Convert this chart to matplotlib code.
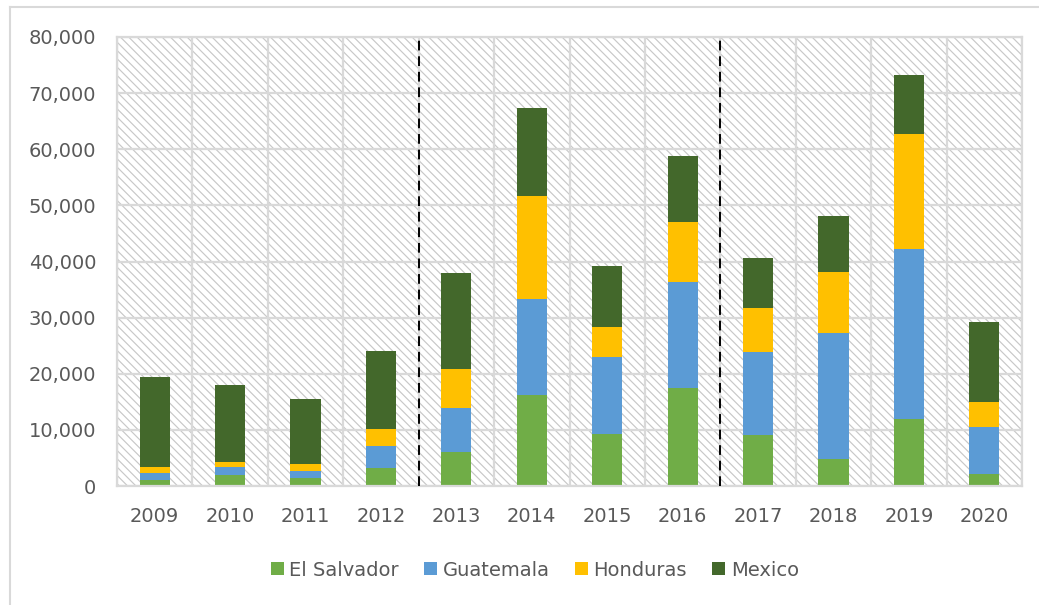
import numpy as np
import matplotlib
matplotlib.use("Agg")
import matplotlib.pyplot as plt
from matplotlib.patches import Rectangle
from matplotlib.lines import Line2D
from matplotlib.ticker import FuncFormatter, MultipleLocator

years = ["2009", "2010", "2011", "2012", "2013", "2014",
         "2015", "2016", "2017", "2018", "2019", "2020"]
el_salvador = [1100, 1900, 1400, 3200, 6000, 16250, 9350, 17400, 9100, 4850, 11850, 2050]
guatemala = [1200, 1500, 1350, 3900, 7900, 17100, 13550, 18950, 14850, 22350, 30450, 8450]
honduras = [1000, 950, 1200, 3000, 6900, 18300, 5450, 10600, 7800, 11000, 20400, 4400]
mexico = [16200, 13700, 11600, 13900, 17100, 15750, 10900, 11800, 8850, 9950, 10450, 14300]

series_names = ["El Salvador", "Guatemala", "Honduras", "Mexico"]
series_colors = ["#70AD47", "#5B9BD5", "#FFC000", "#43682B"]
divider_positions = [3.5, 7.5]

text_color = "#595959"
grid_color = "#d9d9d9"

plt.rcParams["font.family"] = "DejaVu Sans"
plt.rcParams["hatch.linewidth"] = 0.85

fig = plt.figure(figsize=(10.39, 6.05), dpi=100)
ax = fig.add_axes([117 / 1039, 1 - 486 / 605, (1022 - 117) / 1039, (486 - 37) / 605])

# hatched plot background
ax.add_patch(Rectangle((0, 0), 1, 1, transform=ax.transAxes, facecolor="white",
                       edgecolor="#c8c8c8", linewidth=0, hatch="\\\\\\\\", zorder=0.1))

x = np.arange(len(years))
bottom = np.zeros(len(years))
for name, vals, color in zip(series_names, [el_salvador, guatemala, honduras, mexico], series_colors):
    ax.bar(x, vals, width=0.4, bottom=bottom, color=color, label=name,
           edgecolor="none", zorder=2)
    bottom += np.array(vals)

for xd in divider_positions:
    ax.axvline(xd, color="black", linestyle=(0, (5, 3)), linewidth=1.4, zorder=3)

ax.set_xlim(-0.5, len(years) - 0.5)
ax.set_ylim(0, 80000)
ax.yaxis.set_major_locator(MultipleLocator(10000))
ax.yaxis.set_major_formatter(FuncFormatter(lambda v, p: f"{int(v):,}"))
ax.set_xticks(x)
ax.set_xticklabels(years)
ax.set_xticks(np.arange(-0.5, len(years)), minor=True)

ax.set_axisbelow(True)
ax.grid(axis="y", which="major", color=grid_color, linewidth=1.6, zorder=0.5)
ax.grid(axis="x", which="minor", color=grid_color, linewidth=1.6, zorder=0.5)
ax.tick_params(axis="both", which="both", length=0, labelsize=14, labelcolor=text_color)
ax.tick_params(axis="x", pad=15)
ax.tick_params(axis="y", pad=15)
for sp in ax.spines.values():
    sp.set_color(grid_color)
    sp.set_linewidth(1.6)

# outer chart border (top and left edges visible)
fig.add_artist(Line2D([10 / 1039, 10 / 1039], [0, 1 - 7 / 605], color=grid_color, linewidth=1.5))
fig.add_artist(Line2D([10 / 1039, 1], [1 - 7 / 605, 1 - 7 / 605], color=grid_color, linewidth=1.5))

fig.legend(loc="center", bbox_to_anchor=(535 / 1039, 1 - 570 / 605), ncol=4, frameon=False,
           fontsize=14, labelcolor=text_color, handlelength=0.65, handleheight=0.65,
           handletextpad=0.3, columnspacing=1.3)

fig.savefig("out.png", dpi=100)
